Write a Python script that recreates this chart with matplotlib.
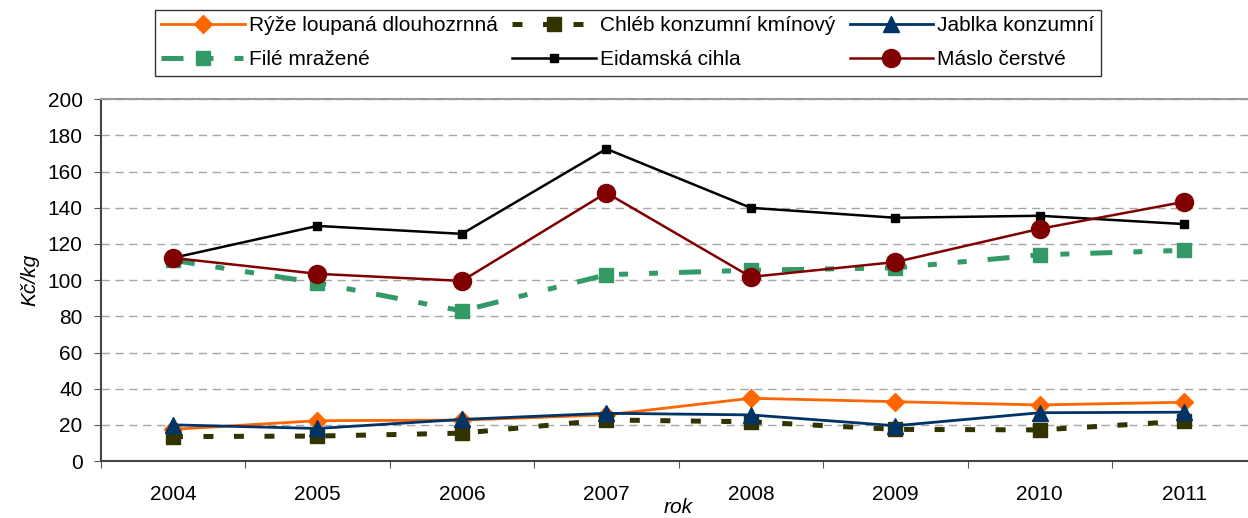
import matplotlib.pyplot as plt
import numpy as np

plt.rcParams['font.family'] = ['Liberation Sans', 'DejaVu Sans']

roky = ['2004', '2005', '2006', '2007', '2008', '2009', '2010', '2011']

ryze = [17.5, 22.3, 22.6, 25.5, 34.7, 32.8, 31.0, 32.5]
chleb = [13.5, 13.8, 15.4, 22.7, 21.7, 17.5, 17.2, 22.0]
jablka = [20.0, 18.0, 23.0, 26.4, 25.5, 19.5, 26.7, 27.0]
file_mr = [111.0, 98.5, 83.0, 103.0, 105.5, 106.8, 114.0, 116.5]
eidam = [112.3, 130.0, 125.6, 172.6, 140.0, 134.5, 135.6, 131.0]
maslo = [112.3, 103.5, 99.6, 148.3, 101.8, 110.0, 128.4, 143.3]

fig = plt.figure(figsize=(12.48, 5.18), dpi=100)
ax = fig.add_axes([0.0807, 0.110, 0.9261, 0.6983])
x = np.arange(len(roky))

l1, = ax.plot(x, ryze, color='#FF6600', lw=2, marker='D', ms=9, label='Rýže loupaná dlouhozrnná')
l2, = ax.plot(x, chleb, color='#333300', lw=3.6, dashes=(2, 4.1), marker='s', ms=10,
              label='Chléb konzumní kmínový')
l3, = ax.plot(x, jablka, color='#003366', lw=2, marker='^', ms=11, label='Jablka konzumní')
l4, = ax.plot(x, file_mr, color='#339966', lw=3.6, dashes=(4.4, 4.2, 1.8, 4.2, 1.8, 4.2),
              marker='s', ms=10, label='Filé mražené')
l5, = ax.plot(x, eidam, color='black', lw=1.8, marker='s', ms=6, label='Eidamská cihla')
l6, = ax.plot(x, maslo, color='#800000', lw=1.8, marker='o', ms=13, label='Máslo čerstvé')

ax.set_xlim(-0.5, 7.5)
ax.set_ylim(0, 200)
ax.set_yticks(np.arange(0, 201, 20))
ax.yaxis.grid(True, color='#a6a6a6', ls=(0, (6, 4)), lw=1)
ax.set_axisbelow(True)

ax.set_xticks(np.arange(-0.5, 8, 1))
ax.set_xticklabels([])
ax.set_xticks(x, minor=True)
ax.set_xticklabels(roky, minor=True)
ax.tick_params(axis='x', which='major', length=5, direction='out', color='#555555')
ax.tick_params(axis='x', which='minor', length=0, pad=17, labelsize=15)
ax.tick_params(axis='y', length=5, direction='out', pad=8, labelsize=15, color='#555555')

for s in ['left', 'bottom']:
    ax.spines[s].set_color('#444444')
    ax.spines[s].set_linewidth(1.5)
ax.spines['top'].set_color('#999999')
ax.spines['top'].set_linewidth(1.5)
ax.spines['right'].set_visible(False)

ax.set_ylabel('Kč/kg', fontsize=15, style='italic', labelpad=6)
ax.set_xlabel('rok', fontsize=15, style='italic', labelpad=-4)

# Excel fills the legend row by row, matplotlib column by column
handles = [l1, l4, l2, l5, l3, l6]
leg = ax.legend(handles=handles, ncol=3, loc='upper center', bbox_to_anchor=(0.503, 0.981),
                bbox_transform=fig.transFigure, fontsize=15, frameon=True,
                fancybox=False, edgecolor='black', handlelength=4.0,
                handletextpad=0.2, columnspacing=0.7, borderpad=0.3,
                labelspacing=0.73, borderaxespad=0)
leg.get_frame().set_linewidth(1.0)

fig.savefig('out.png', dpi=100)
